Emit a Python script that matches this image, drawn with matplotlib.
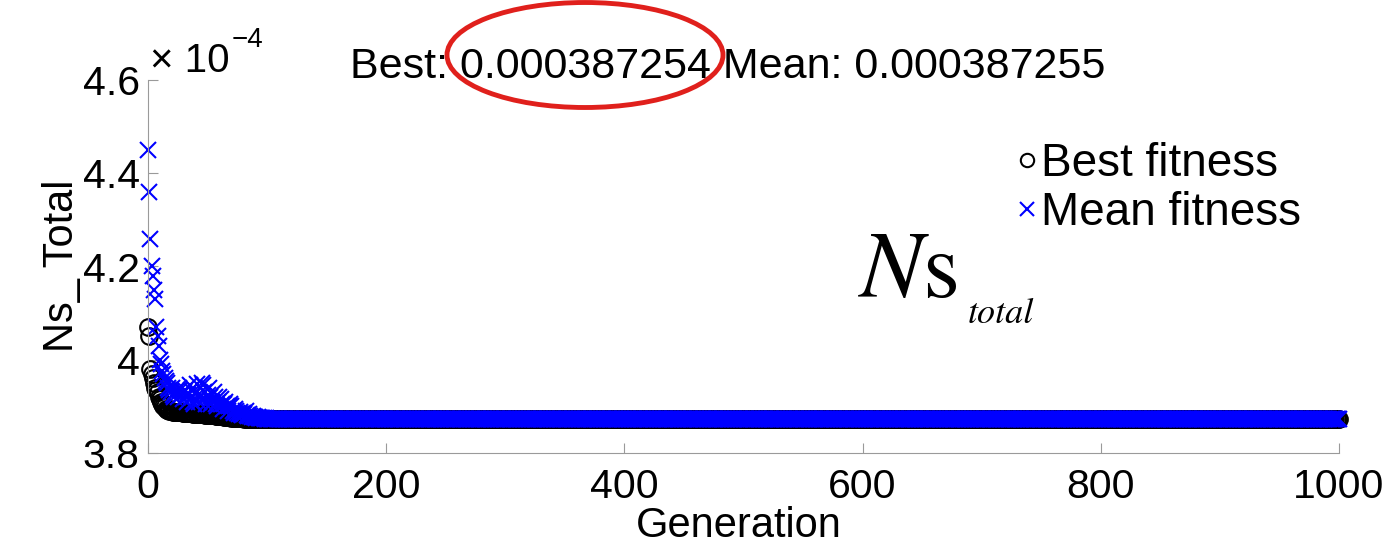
import matplotlib
matplotlib.use("Agg")
import matplotlib.pyplot as plt
from matplotlib.patches import Ellipse

# values in units of 1e-4
best_early = [4.07, 4.05, 3.98, 3.97, 3.96, 3.95, 3.94, 3.935, 3.93, 3.92,
              3.915, 3.91, 3.905, 3.90, 3.90, 3.895, 3.893, 3.892, 3.891, 3.89,
              3.89, 3.889, 3.889, 3.888, 3.888, 3.888, 3.887, 3.887, 3.887, 3.886,
              3.886, 3.886, 3.886, 3.885, 3.885, 3.885, 3.885, 3.885, 3.884, 3.884,
              3.884, 3.884, 3.884, 3.883, 3.883, 3.883, 3.883, 3.883, 3.882, 3.882,
              3.882, 3.882, 3.882, 3.881, 3.881, 3.881, 3.881, 3.880, 3.880, 3.880,
              3.880, 3.879, 3.879, 3.879, 3.878, 3.878, 3.878, 3.877, 3.877, 3.877,
              3.876, 3.876, 3.876, 3.875, 3.875, 3.875, 3.8745, 3.8745, 3.874, 3.874,
              3.874, 3.8735, 3.8735, 3.8733, 3.8733, 3.873, 3.873, 3.873, 3.8728, 3.8728,
              3.8728, 3.8727, 3.8727, 3.8727, 3.8726, 3.8726, 3.8726, 3.87256, 3.87256, 3.87255]
mean_early = [4.45, 4.36, 4.26, 4.20, 4.18, 4.15, 4.13, 4.07, 4.05, 4.03,
              4.00, 3.99, 3.975, 3.97, 3.96, 3.955, 3.95, 3.94, 3.935, 3.93,
              3.94, 3.925, 3.92, 3.93, 3.935, 3.92, 3.94, 3.935, 3.925, 3.915,
              3.93, 3.935, 3.92, 3.91, 3.925, 3.945, 3.935, 3.92, 3.91, 3.905,
              3.93, 3.948, 3.925, 3.91, 3.92, 3.95, 3.945, 3.93, 3.915, 3.905,
              3.925, 3.94, 3.92, 3.905, 3.91, 3.93, 3.92, 3.905, 3.90, 3.91,
              3.92, 3.915, 3.905, 3.895, 3.905, 3.91, 3.90, 3.89, 3.90, 3.905,
              3.90, 3.89, 3.885, 3.895, 3.89, 3.885, 3.883, 3.888, 3.884, 3.882,
              3.886, 3.884, 3.89, 3.882, 3.88, 3.883, 3.879, 3.878, 3.88, 3.877,
              3.878, 3.876, 3.877, 3.875, 3.876, 3.874, 3.875, 3.874, 3.8735, 3.874,
              3.8735, 3.873, 3.8733, 3.873, 3.8728, 3.873, 3.8728, 3.8727, 3.8728, 3.8727,
              3.8726, 3.8727, 3.8726, 3.8726, 3.87255, 3.8726, 3.87255, 3.87255, 3.87255, 3.87255]
best_final = 3.87254
mean_final = 3.87255
n_gen = 1001

best = best_early + [best_final] * (n_gen - len(best_early))
mean = mean_early + [mean_final] * (n_gen - len(mean_early))
gens = list(range(n_gen))

yticks = [3.8, 4.0, 4.2, 4.4, 4.6]
ytick_labels = ['3.8', '4', '4.2', '4.4', '4.6']
xticks = [0, 200, 400, 600, 800, 1000]

plt.rcParams['font.family'] = ['Liberation Sans', 'DejaVu Sans']
plt.rcParams['mathtext.fontset'] = 'stix'

W, H = 1384, 549
fig = plt.figure(figsize=(W / 100, H / 100), dpi=100)
ax = fig.add_axes([148 / W, 1 - 453 / H, 1191 / W, 373 / H])

ax.plot(gens, best, linestyle='none', marker='o', markersize=12, mfc='none',
        mec='black', mew=1.5, label='Best fitness', clip_on=False)
ax.plot(gens, mean, linestyle='none', marker='x', markersize=12,
        color='blue', mew=1.5, label='Mean fitness', clip_on=False)

ax.set_xlim(0, 1000)
ax.set_ylim(3.8, 4.6)
ax.set_xticks(xticks)
ax.set_yticks(yticks)
ax.set_yticklabels(ytick_labels)
for s in ['top', 'right']:
    ax.spines[s].set_visible(False)
for s in ['left', 'bottom']:
    ax.spines[s].set_color('#9a9a9a')
ax.tick_params(direction='in', length=7, color='#9a9a9a', labelsize=29.5)
ax.tick_params(axis='x', pad=11)
ax.tick_params(axis='y', pad=6)

# labels and title placed like the MATLAB figure
fig.text(739 / W, 1 - 537 / H, 'Generation', fontsize=30, ha='center', va='baseline')
fig.text(62 / W, 1 - 266 / H, 'Ns_ Total', fontsize=30, rotation=90,
         ha='center', va='center')
fig.text(728 / W, 1 - 78 / H, 'Best: 0.000387254 Mean: 0.000387255',
         fontsize=31, ha='center', va='baseline')

fig.text(150 / W, 1 - 72 / H, '\u00d7 10', fontsize=29, ha='left', va='baseline')
fig.text(232 / W, 1 - 47 / H, '\u22124', fontsize=20, ha='left', va='baseline')

leg = ax.legend(loc='upper left', bbox_to_anchor=(1016 / W, 1 - 142 / H),
                bbox_transform=fig.transFigure, frameon=False, fontsize=33,
                handletextpad=0.05, handlelength=0.5, labelspacing=0.1,
                markerscale=0.8, borderpad=0, borderaxespad=0)

fig.text(858 / W, 1 - 297 / H, r'$\mathit{N}\mathrm{s}$', fontsize=68,
         ha='left', va='baseline')
fig.text(968 / W, 1 - 323 / H, 'total', fontsize=26, style='italic',
         family='STIXGeneral', ha='left', va='baseline')

ring = Ellipse((585 / W, 1 - 55 / H), 276 / W, 105 / H,
               transform=fig.transFigure, fill=False, ec='#e0201c', lw=3.5)
fig.add_artist(ring)

fig.savefig('out.png', dpi=100)
